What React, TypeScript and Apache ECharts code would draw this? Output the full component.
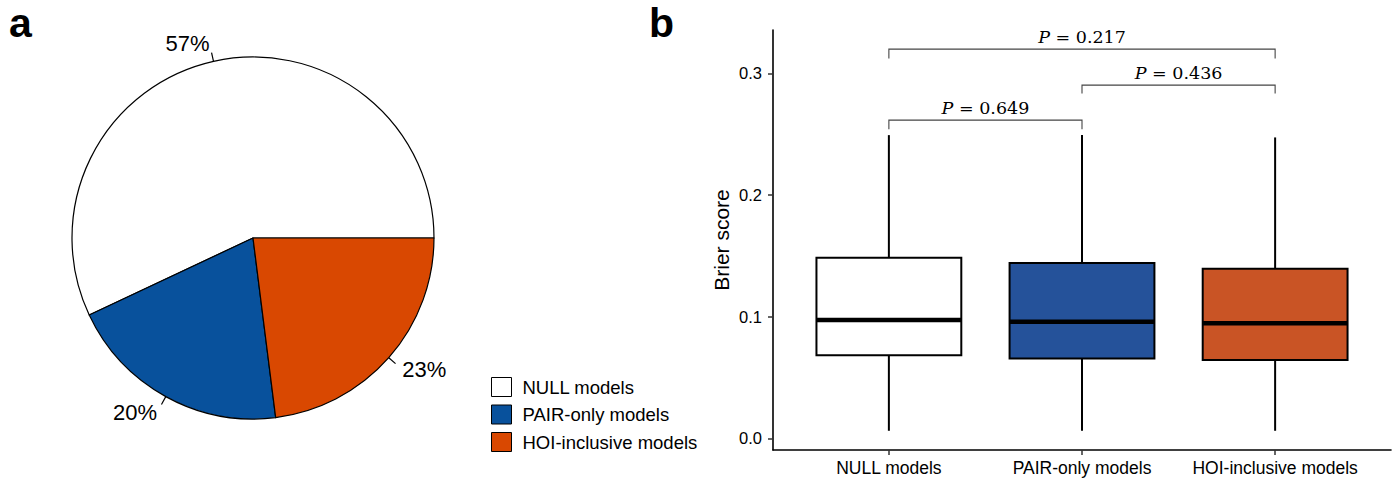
import React, { useEffect, useRef } from 'react';
import * as echarts from 'echarts';

// ---- Panel a: pie ----
const modelCategories = ['NULL models', 'PAIR-only models', 'HOI-inclusive models'];
const pieShares = [57, 20, 23];
const pieColors = ['#FFFFFF', '#08519C', '#D94801'];

// ---- Panel b: boxplot ----
const boxPositions = [1, 2, 3];
const whiskerLow = [0.0062, 0.0062, 0.0062];
const quartile1 = [0.0682, 0.0657, 0.0643];
const medians = [0.0972, 0.0958, 0.0945];
const quartile3 = [0.1484, 0.144, 0.1394];
const whiskerHigh = [0.2492, 0.2492, 0.2473];
const boxColors = ['#FFFFFF', '#25529A', '#C95425'];
const yTicks = [0, 0.1, 0.2, 0.3];

// ---- significance brackets ----
const comparisonFrom = [1, 2, 1];
const comparisonTo = [2, 3, 3];
const comparisonP = ['0.649', '0.436', '0.217'];
const bracketLevel = [0.2615, 0.2903, 0.3199];
const bracketTip = [0.254, 0.2835, 0.3122];

const BOX_WIDTH = 0.75;
const SANS = '"Liberation Sans", Arial, Helvetica, sans-serif';
const SERIF = '"DejaVu Serif", serif';

export default function App() {
  const ref = useRef<HTMLDivElement>(null);
  useEffect(() => {
    document.body.style.margin = '0';
    const chart = echarts.init(ref.current!, null, { renderer: 'svg' });

    const boxData = boxPositions.map((x, i) => ({
      value: [x, whiskerLow[i], quartile1[i], medians[i], quartile3[i], whiskerHigh[i]],
      itemStyle: { color: boxColors[i] },
    }));

    const bracketData = comparisonFrom.map((f, i) => ({
      value: [f, comparisonTo[i], bracketLevel[i], bracketTip[i]],
      name: comparisonP[i],
    }));

    const option: any = {
      animation: false,
      textStyle: { fontFamily: SANS },
      graphic: [
        {
          type: 'text', x: 9, y: 23,
          style: { text: 'a', fontSize: 41, fontWeight: 'bold', fontFamily: SANS, fill: '#000', verticalAlign: 'middle', textVerticalAlign: 'middle' },
        },
        {
          type: 'text', x: 649, y: 23,
          style: { text: 'b', fontSize: 41, fontWeight: 'bold', fontFamily: SANS, fill: '#000', verticalAlign: 'middle', textVerticalAlign: 'middle' },
        },
      ],
      legend: {
        orient: 'vertical',
        left: 491,
        top: 377,
        padding: 0,
        itemWidth: 20,
        itemHeight: 19,
        itemGap: 7.5,
        icon: 'rect',
        data: modelCategories,
        itemStyle: { borderColor: '#000', borderWidth: 1 },
        textStyle: { fontSize: 18.5, fontFamily: SANS, color: '#000', lineHeight: 19, padding: [0, 0, 0, 6] },
        selectedMode: false,
      },
      grid: { left: 773, right: 6, top: 30, bottom: 29, containLabel: false },
      xAxis: {
        type: 'value',
        min: 0.4,
        max: 3.6,
        splitLine: { show: false },
        axisLine: { show: true, onZero: false, lineStyle: { color: '#000', width: 1.6 } },
        axisTick: { show: true, customValues: boxPositions, length: 5, lineStyle: { color: '#333', width: 1.5 } },
        axisLabel: {
          customValues: boxPositions,
          formatter: (v: number) => modelCategories[Math.round(v) - 1] ?? '',
          fontSize: 17.5, color: '#000', fontFamily: SANS, margin: 9,
        },
      },
      yAxis: {
        type: 'value',
        min: -0.0096,
        max: 0.3356,
        name: 'Brier score',
        nameLocation: 'middle',
        nameGap: 41,
        nameTextStyle: { fontSize: 21, color: '#000', fontFamily: SANS },
        splitLine: { show: false },
        axisLine: { show: true, onZero: false, lineStyle: { color: '#000', width: 1.6 } },
        axisTick: { show: true, customValues: yTicks, length: 5, lineStyle: { color: '#333', width: 1.5 } },
        axisLabel: {
          customValues: yTicks,
          formatter: (v: number) => v.toFixed(1),
          fontSize: 16.5, color: '#000', fontFamily: SANS, margin: 11,
        },
      },
      series: [
        {
          type: 'pie',
          name: 'share',
          center: [253, 238],
          radius: 181,
          startAngle: 0,
          clockwise: false,
          avoidLabelOverlap: false,
          data: modelCategories.map((n, i) => ({ name: n, value: pieShares[i], itemStyle: { color: pieColors[i] } })),
          itemStyle: { borderColor: '#000', borderWidth: 1.2 },
          label: {
            show: true,
            position: 'outside',
            formatter: '{c}%',
            fontSize: 22,
            fontFamily: SANS,
            color: '#000',
            distanceToLabelLine: 0,
          },
          labelLine: { show: true, length: 9, length2: 0, lineStyle: { color: '#000', width: 1.2 } },
          labelLayout: (p: any) => {
            const pts = p.labelLinePoints;
            if (!pts) return {};
            const [x1, y1] = pts[0];
            const [x2, y2] = pts[1];
            const left = x2 < x1;
            return {
              x: x2 + (x2 - x1),
              y: y2 + (y2 - y1),
              align: left ? 'right' : 'left',
              verticalAlign: 'middle',
              labelLinePoints: pts,
            };
          },
          emphasis: { disabled: true },
        },
        {
          type: 'custom',
          name: 'boxes',
          coordinateSystem: 'cartesian2d',
          data: boxData,
          encode: { x: 0, y: [1, 2, 3, 4, 5] },
          renderItem: (params: any, api: any) => {
            const x = api.value(0);
            const lo = api.coord([x, api.value(1)]);
            const q1 = api.coord([x, api.value(2)]);
            const md = api.value(3);
            const q3 = api.coord([x, api.value(4)]);
            const hi = api.coord([x, api.value(5)]);
            const tl = api.coord([x - BOX_WIDTH / 2, api.value(4)]);
            const br = api.coord([x + BOX_WIDTH / 2, api.value(2)]);
            const ml = api.coord([x - BOX_WIDTH / 2, md]);
            const mr = api.coord([x + BOX_WIDTH / 2, md]);
            const color = api.visual('color');
            return {
              type: 'group',
              children: [
                { type: 'line', shape: { x1: hi[0], y1: hi[1], x2: q3[0], y2: q3[1] }, style: { stroke: '#000', lineWidth: 2 } },
                { type: 'line', shape: { x1: lo[0], y1: lo[1], x2: q1[0], y2: q1[1] }, style: { stroke: '#000', lineWidth: 2 } },
                { type: 'rect', shape: { x: tl[0], y: tl[1], width: br[0] - tl[0], height: br[1] - tl[1] }, style: { fill: color, stroke: '#000', lineWidth: 2 } },
                { type: 'line', shape: { x1: ml[0], y1: ml[1], x2: mr[0], y2: mr[1] }, style: { stroke: '#000', lineWidth: 4.5 } },
              ],
            };
          },
          silent: true,
        },
        {
          type: 'custom',
          name: 'brackets',
          coordinateSystem: 'cartesian2d',
          data: bracketData,
          encode: { x: [0, 1], y: [2, 3] },
          renderItem: (params: any, api: any) => {
            const a = api.value(0);
            const b = api.value(1);
            const lvl = api.value(2);
            const tip = api.value(3);
            const p1 = api.coord([a, tip]);
            const p2 = api.coord([a, lvl]);
            const p3 = api.coord([b, lvl]);
            const p4 = api.coord([b, tip]);
            const mid = api.coord([(a + b) / 2, lvl]);
            const pv = comparisonP[params.dataIndex];
            return {
              type: 'group',
              children: [
                { type: 'polyline', shape: { points: [p1, p2, p3, p4] }, style: { stroke: '#444', lineWidth: 1.1, fill: null } },
                {
                  type: 'text',
                  x: mid[0],
                  y: mid[1] - 12.5,
                  style: {
                    text: '{i|P} = ' + pv,
                    rich: { i: { fontStyle: 'italic', fontFamily: SERIF, fontSize: 17.5, fill: '#000' } },
                    fontFamily: SERIF,
                    fontSize: 17.5,
                    fill: '#000',
                    align: 'center',
                    textAlign: 'center',
                    verticalAlign: 'middle',
                    textVerticalAlign: 'middle',
                  },
                },
              ],
            };
          },
          silent: true,
        },
      ],
    };
    chart.setOption(option);
    return () => chart.dispose();
  }, []);
  return <div ref={ref} style={{ width: 1397, height: 479 }} />;
}
